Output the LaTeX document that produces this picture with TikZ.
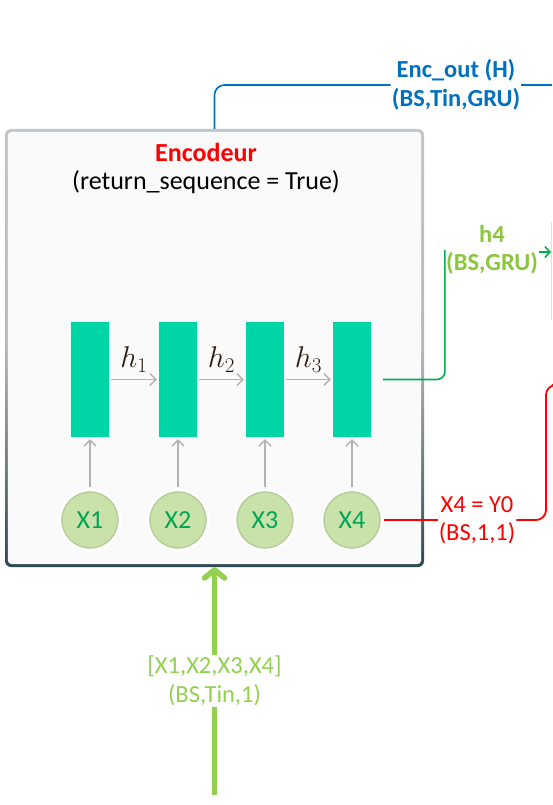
\RequirePackage{fix-cm}
\documentclass[tikz,border=0pt]{standalone}
\usepackage{fontspec}
\setmainfont{Carlito}
\usetikzlibrary{arrows.meta}

\definecolor{cellgreen}{HTML}{00D5A5}
\definecolor{xfill}{HTML}{C9E2AA}
\definecolor{xring}{HTML}{B3CC97}
\definecolor{xtext}{HTML}{00A551}
\definecolor{encblue}{HTML}{0070C0}
\definecolor{hgreen}{HTML}{00B050}
\definecolor{hlabgreen}{HTML}{8CC63F}
\definecolor{ingreen}{HTML}{92D050}
\definecolor{boxtop}{HTML}{C2C6CA}
\definecolor{boxbot}{HTML}{2E4854}
\definecolor{boxfill}{HTML}{FAFAFA}
\definecolor{hbrown}{HTML}{2B1D12}

\tikzset{
  encframe/.style={rounded corners=6pt, top color=boxtop, bottom color=boxbot,
    middle color=boxtop!90!boxbot, minimum width=419pt, minimum height=438pt, inner sep=0pt},
  cell/.style={fill=cellgreen, minimum width=38pt, minimum height=115pt, inner sep=0pt},
  xin/.style={circle, minimum size=56pt, inner sep=0pt, fill=xfill, draw=xring,
    line width=1.3pt, preaction={draw=white, line width=7pt},
    text=xtext, font=\fontsize{26}{30}\selectfont},
  greylink/.style={draw=gray!60, line width=1.4pt, -{Straight Barb[length=6pt,width=12pt]}},
  lab/.style={align=center, inner sep=1pt},
  blueline/.style={draw=encblue, line width=1.6pt},
  greenline/.style={draw=hgreen, line width=1.6pt},
  redline/.style={draw=red, line width=1.8pt},
  inline/.style={draw=ingreen, line width=5.5pt}
}

\begin{document}
\begin{tikzpicture}[x=1pt, y=-1pt, font=\fontsize{24.5}{28.5}\selectfont]
\useasboundingbox (0,0) rectangle (552,805);

% Encoder frame
\node[encframe] (enc) at (214.5,348) {};
\fill[boxfill, rounded corners=4pt] ([shift={(3,-3)}]enc.south west) rectangle ([shift={(-3,3)}]enc.north east);
\node[lab, font=\fontsize{26}{28}\selectfont] (enctitle) at (206,168) {{\color{red}\bfseries Encodeur}\\(return\_sequence = True)};

% cells and inputs
\foreach \i/\x in {1/90,2/178,3/265,4/352}{
  \node[cell] (c\i) at (\x,379.5) {};
  \node[xin] (x\i) at (\x,520) {X\i};
  \draw[greylink, shorten <=4pt, shorten >=2pt] (x\i.north) -- (c\i.south);
}
\foreach \i/\j in {1/2,2/3,3/4}{
  \draw[greylink, shorten <=2pt, shorten >=2pt] (c\i.east) -- (c\j.west)
    node[midway, above=3pt, text=hbrown, font=\fontsize{30}{32}\selectfont] {$h_\i$};
}

% Enc_out
\node[lab, text=encblue, font=\fontsize{24.5}{28.5}\selectfont\bfseries] (encout) at (456,85) {Enc\_out (H)\\(BS,Tin,GRU)};
\coordinate (encR) at (552,85);
\draw[blueline, rounded corners=10pt] (enc.north) |- (encout.west);
\draw[blueline] (encout.east) -- (encR);

% h4
\node[lab, text=hlabgreen, font=\fontsize{24.5}{28.5}\selectfont\bfseries] (hfour) at (492,250) {h4\\(BS,GRU)};
\coordinate (hR) at (551,252);
\draw[greenline, rounded corners=8pt, shorten <=12pt] (c4.east) -| (hfour.west);
\draw[greenline, -{Straight Barb[length=5pt,width=11pt]}] (hfour.east |- hR) -- (hR);
\draw[gray!25, line width=1pt] (551,222) -- (551,320);

% X4 = Y0
\node[lab, text=red] (yzero) at (477,520) {X4 = Y0\\(BS,1,1)};
\coordinate (redR) at (552,385);
\draw[redline, shorten <=3pt] (x4.east) -- (yzero.west);
\draw[redline, rounded corners=10pt] (yzero.east) -| (546,385) -- (redR);

% input sequence
\node[lab, text=ingreen] (inseq) at (214.5,681) {[X1,X2,X3,X4]\\(BS,Tin,1)};
\coordinate (inB) at (214.5,795);
\draw[inline] (inB) -- (inseq.south);
\draw[inline, -{Straight Barb[length=8pt,width=20pt,round]}] (inseq.north) -- (enc.south);
\end{tikzpicture}
\end{document}
